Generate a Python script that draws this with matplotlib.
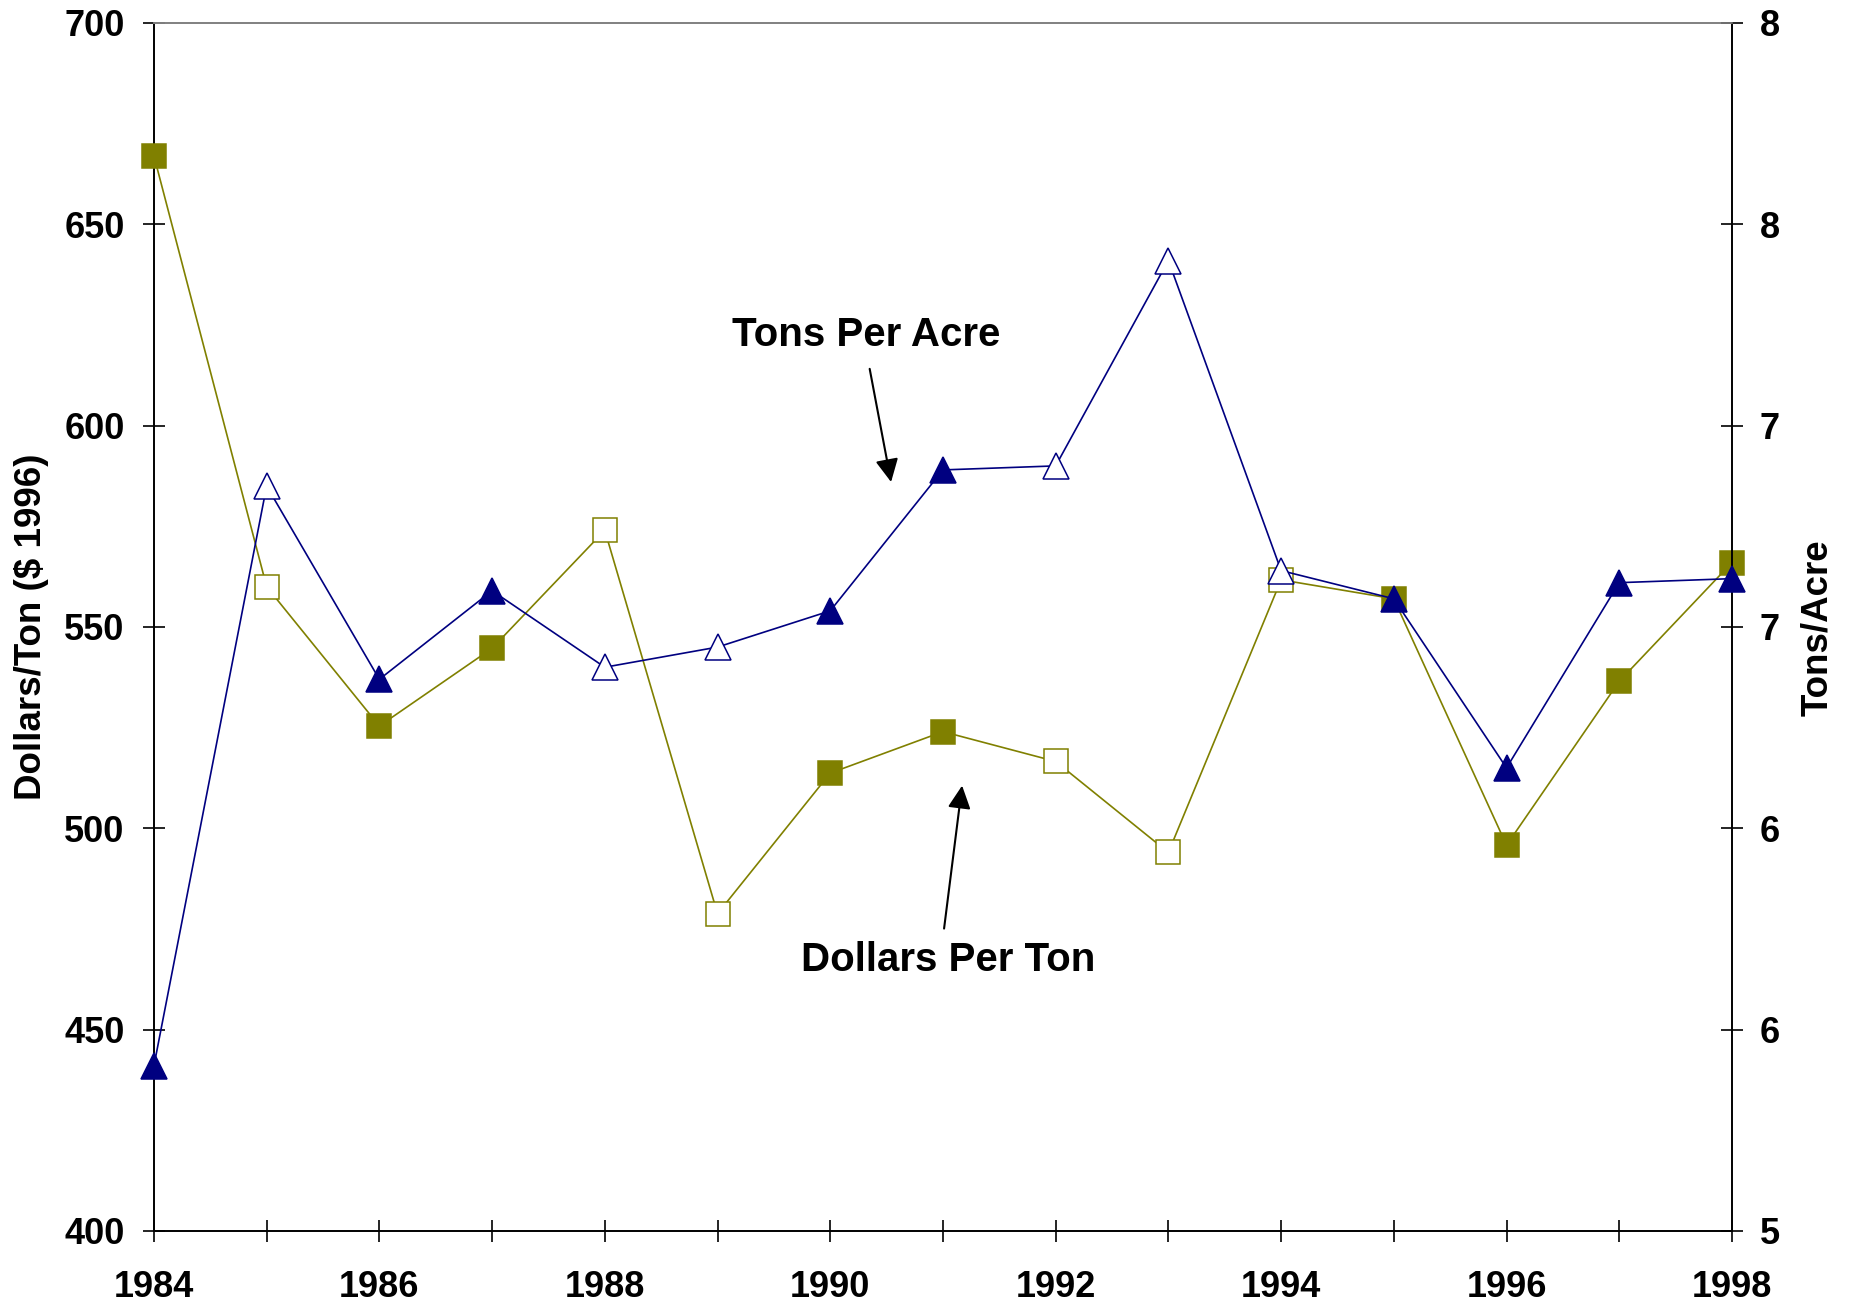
import matplotlib
matplotlib.use('Agg')
import matplotlib.pyplot as plt

plt.rcParams['font.family'] = ['Liberation Sans', 'DejaVu Sans']
plt.rcParams['font.weight'] = 'bold'

# data
years = [1984, 1985, 1986, 1987, 1988, 1989, 1990, 1991,
         1992, 1993, 1994, 1995, 1996, 1997, 1998]
dollars_per_ton = [667, 560, 525.4, 544.7, 574, 478.8, 513.7, 524,
                   516.6, 494, 561.7, 557, 495.8, 536.5, 566]
tons_per_acre = [5.41, 6.85, 6.37, 6.59, 6.40, 6.45, 6.54, 6.89,
                 6.90, 7.41, 6.64, 6.57, 6.15, 6.61, 6.62]
# years drawn with open markers
open_years = [1985, 1988, 1989, 1992, 1993, 1994]

left_ticks = [400, 450, 500, 550, 600, 650, 700]
right_ticks = [5, 5.5, 6, 6.5, 7, 7.5, 8]
right_tick_labels = ['5', '6', '6', '7', '7', '8', '8']
x_label_years = [1984, 1986, 1988, 1990, 1992, 1994, 1996, 1998]

olive = '#808000'
navy = '#000080'

fig = plt.figure(figsize=(18.5, 13.04), dpi=100)
ax = fig.add_axes([0.0832, 0.056, 0.853, 0.9264])
ax2 = ax.twinx()


def draw_series(a, xs, ys, color, marker, ms):
    a.plot(xs, ys, '-', color=color, lw=1.2, clip_on=False, zorder=2)
    fx = [x for x in xs if x not in open_years]
    fy = [y for x, y in zip(xs, ys) if x not in open_years]
    ox = [x for x in xs if x in open_years]
    oy = [y for x, y in zip(xs, ys) if x in open_years]
    a.plot(fx, fy, linestyle='none', marker=marker, ms=ms, mfc=color,
           mec=color, mew=1.1, clip_on=False, zorder=3)
    a.plot(ox, oy, linestyle='none', marker=marker, ms=ms, mfc='white',
           mec=color, mew=1.1, clip_on=False, zorder=3)


#dollars per ton on left axis
draw_series(ax, years, dollars_per_ton, olive, 's', 17.5)
#tons per acre on right axis
draw_series(ax2, years, tons_per_acre, navy, '^', 18.5)

ax.set_xlim(1984, 1998)
ax.set_ylim(400, 700)
ax2.set_ylim(5, 8)

ax.set_xticks(years)
ax.set_xticklabels([str(y) if y in x_label_years else '' for y in years])
ax.set_yticks(left_ticks)
ax2.set_yticks(right_ticks)
ax2.set_yticklabels(right_tick_labels)

ax.tick_params(axis='y', direction='inout', length=16, width=1.2, pad=13,
               labelsize=26)
ax.tick_params(axis='x', direction='inout', length=16, width=1.2, pad=20,
               labelsize=26)
ax2.tick_params(axis='y', direction='inout', length=16, width=1.2, pad=12,
                labelsize=26)

for s in ['left', 'bottom']:
    ax.spines[s].set_linewidth(1.4)
    ax.spines[s].set_color('black')
ax2.spines['right'].set_linewidth(1.4)
ax2.spines['right'].set_color('black')
ax.spines['right'].set_visible(False)
ax2.spines['left'].set_visible(False)
ax2.spines['bottom'].set_visible(False)
ax.spines['top'].set_color('#808080')
ax.spines['top'].set_linewidth(1.2)
ax2.spines['top'].set_color('#808080')
ax2.spines['top'].set_linewidth(1.2)

fig.text(0.017, 0.519, 'Dollars/Ton ($ 1996)', rotation=90, fontsize=26.5,
         fontweight='bold', ha='center', va='center')
fig.text(0.9825, 0.519, 'Tons/Acre', rotation=90, fontsize=26.5,
         fontweight='bold', ha='center', va='center')

#annotations
ax.text(1990.32, 619.8, 'Tons Per Acre', fontsize=29, fontweight='bold',
        ha='center', va='baseline', zorder=5)
ax.annotate('', xy=(1990.54, 586.0), xytext=(1990.35, 614.1),
            arrowprops=dict(arrowstyle='-|>,head_length=0.7,head_width=0.35',
                            color='black', lw=1.5, shrinkA=0, shrinkB=0,
                            mutation_scale=20))
ax.text(1991.05, 464.6, 'Dollars Per Ton', fontsize=29, fontweight='bold',
        ha='center', va='baseline', zorder=5)
ax.annotate('', xy=(1991.17, 510.6), xytext=(1991.01, 475.1),
            arrowprops=dict(arrowstyle='-|>,head_length=0.7,head_width=0.35',
                            color='black', lw=1.5, shrinkA=0, shrinkB=0,
                            mutation_scale=20))

fig.savefig('out.png', dpi=100)
